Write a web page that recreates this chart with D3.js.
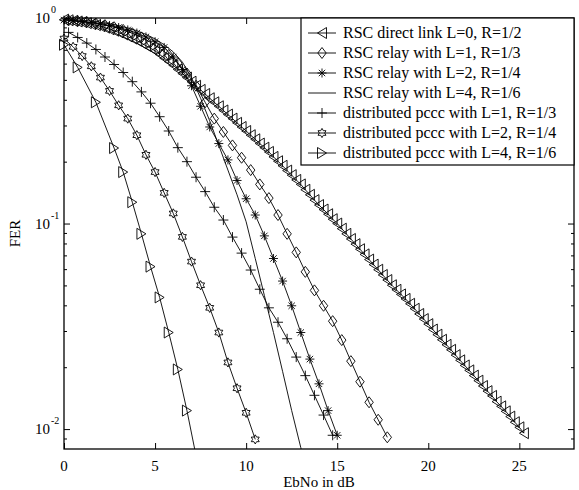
<!DOCTYPE html>
<html>
<head>
<meta charset="utf-8">
<script src="https://cdn.jsdelivr.net/npm/d3@7"></script>
<style>
  body { margin: 0; background: #fff; }
  text { font-family: "Liberation Serif", "Times New Roman", serif; fill: #000; }
</style>
</head>
<body>
<div id="chart"></div>
<script>
// ---------Data----------

// RSC direct link L=0, R=1/2
const ebnoDirect = [0, 0.25, 0.5, 0.75, 1, 1.25, 1.5, 1.75, 2, 2.25, 2.5, 2.75, 3, 3.25, 3.5, 3.75, 4, 4.25, 4.5, 4.75, 5, 5.25, 5.5, 5.75, 6, 6.25, 6.5, 6.75, 7, 7.25, 7.5, 7.75, 8, 8.25, 8.5, 8.75, 9, 9.25, 9.5, 9.75, 10, 10.25, 10.5, 10.75, 11, 11.25, 11.5, 11.75, 12, 12.25, 12.5, 12.75, 13, 13.25, 13.5, 13.75, 14, 14.25, 14.5, 14.75, 15, 15.25, 15.5, 15.75, 16, 16.25, 16.5, 16.75, 17, 17.25, 17.5, 17.75, 18, 18.25, 18.5, 18.75, 19, 19.25, 19.5, 19.75, 20, 20.25, 20.5, 20.75, 21, 21.25, 21.5, 21.75, 22, 22.25, 22.5, 22.75, 23, 23.25, 23.5, 23.75, 24, 24.25, 24.5, 24.75, 25, 25.25];
const ferDirect = [0.982, 0.975, 0.968, 0.962, 0.955, 0.944, 0.933, 0.923, 0.912, 0.897, 0.881, 0.867, 0.851, 0.832, 0.813, 0.794, 0.776, 0.755, 0.733, 0.713, 0.692, 0.665, 0.638, 0.614, 0.589, 0.562, 0.537, 0.513, 0.490, 0.468, 0.447, 0.427, 0.407, 0.389, 0.372, 0.355, 0.339, 0.324, 0.309, 0.295, 0.282, 0.269, 0.257, 0.245, 0.234, 0.223, 0.211, 0.201, 0.191, 0.181, 0.172, 0.163, 0.155, 0.146, 0.138, 0.130, 0.123, 0.117, 0.111, 0.105, 0.100, 0.0944, 0.0891, 0.0841, 0.0794, 0.0750, 0.0708, 0.0668, 0.0631, 0.0596, 0.0562, 0.0531, 0.0501, 0.0476, 0.0452, 0.0430, 0.0407, 0.0385, 0.0363, 0.0343, 0.0324, 0.0305, 0.0288, 0.0272, 0.0257, 0.0243, 0.0229, 0.0216, 0.0204, 0.0193, 0.0182, 0.0172, 0.0162, 0.0153, 0.0145, 0.0136, 0.0129, 0.0122, 0.0115, 0.0108, 0.0102, 0.00955];

// RSC relay with L=1, R=1/3
const ebnoRelay1 = [0.25, 0.75, 1.25, 1.75, 2.25, 2.75, 3.25, 3.75, 4.25, 4.75, 5.25, 5.75, 6.25, 6.75, 7.25, 7.75, 8.25, 8.75, 9.25, 9.75, 10.25, 10.75, 11.25, 11.75, 12.25, 12.75, 13.25, 13.75, 14.25, 14.75, 15.25, 15.75, 16.25, 16.75, 17.25, 17.75];
const ferRelay1 = [0.973, 0.966, 0.955, 0.940, 0.923, 0.902, 0.875, 0.843, 0.805, 0.762, 0.713, 0.661, 0.603, 0.537, 0.468, 0.389, 0.324, 0.279, 0.240, 0.209, 0.182, 0.155, 0.133, 0.110, 0.0891, 0.0724, 0.0582, 0.0473, 0.0398, 0.0335, 0.0271, 0.0214, 0.0170, 0.0135, 0.0111, 0.00912];

// RSC relay with L=2, R=1/4
const ebnoRelay2 = [0, 0.5, 1, 1.5, 2, 2.5, 3, 3.5, 4, 4.5, 5, 5.5, 6, 6.5, 7, 7.5, 8, 8.5, 9, 9.5, 10, 10.5, 11, 11.5, 12, 12.5, 13, 13.5, 14, 14.5, 15];
const ferRelay2 = [0.977, 0.971, 0.962, 0.951, 0.938, 0.920, 0.899, 0.875, 0.845, 0.809, 0.767, 0.719, 0.646, 0.562, 0.468, 0.372, 0.295, 0.245, 0.204, 0.162, 0.132, 0.110, 0.0871, 0.0676, 0.0525, 0.0398, 0.0295, 0.0219, 0.0166, 0.0123, 0.00933];

// RSC relay with L=4, R=1/6
const ebnoRelay4 = [0, 0.5, 1, 1.5, 2, 2.5, 3, 3.5, 4, 4.5, 5, 5.5, 6, 6.5, 7, 7.5, 8, 8.5, 9, 9.5, 10, 10.5, 11, 11.5, 12, 12.5, 13, 13.5];
const ferRelay4 = [0.986, 0.982, 0.975, 0.966, 0.953, 0.938, 0.918, 0.895, 0.867, 0.832, 0.791, 0.741, 0.684, 0.610, 0.513, 0.407, 0.316, 0.240, 0.182, 0.138, 0.102, 0.0676, 0.0447, 0.0295, 0.0191, 0.0123, 0.00813, 0.00525];

// distributed pccc with L=1, R=1/3
const ebnoPccc1 = [0.25, 0.75, 1.25, 1.75, 2.25, 2.75, 3.25, 3.75, 4.25, 4.75, 5.25, 5.75, 6.25, 6.75, 7.25, 7.75, 8.25, 8.75, 9.25, 9.75, 10.25, 10.75, 11.25, 11.75, 12.25, 12.75, 13.25, 13.75, 14.25, 14.75];
const ferPccc1 = [0.851, 0.804, 0.755, 0.703, 0.646, 0.594, 0.543, 0.490, 0.437, 0.385, 0.331, 0.282, 0.234, 0.200, 0.168, 0.143, 0.120, 0.104, 0.0859, 0.0718, 0.0594, 0.0479, 0.0389, 0.0331, 0.0275, 0.0224, 0.0182, 0.0146, 0.0117, 0.00933];

// distributed pccc with L=2, R=1/4
const ebnoPccc2 = [0, 0.5, 1, 1.5, 2, 2.5, 3, 3.5, 4, 4.5, 5, 5.5, 6, 6.5, 7, 7.5, 8, 8.5, 9, 9.5, 10, 10.5];
const ferPccc2 = [0.794, 0.724, 0.653, 0.582, 0.513, 0.442, 0.376, 0.324, 0.269, 0.216, 0.178, 0.141, 0.112, 0.0861, 0.0653, 0.0501, 0.0389, 0.0295, 0.0211, 0.0158, 0.0120, 0.00891];

// distributed pccc with L=4, R=1/6
const ebnoPccc4 = [0, 0.75, 1.75, 2.75, 3.25, 3.75, 4.25, 4.75, 5.25, 5.75, 6.25, 6.75, 7.25];
const ferPccc4 = [0.741, 0.575, 0.389, 0.233, 0.178, 0.127, 0.0891, 0.0617, 0.0437, 0.0295, 0.0195, 0.0123, 0.00741];

const legendLabels = [
  "RSC direct link L=0, R=1/2",
  "RSC relay with L=1, R=1/3",
  "RSC relay with L=2, R=1/4",
  "RSC relay with L=4, R=1/6",
  "distributed pccc with L=1, R=1/3",
  "distributed pccc with L=2, R=1/4",
  "distributed pccc with L=4, R=1/6"
];
const markerTypes = ["triLeft", "diamond", "asterisk", "none", "plus", "hexagram", "triRight"];

const xTicks = [0, 5, 10, 15, 20, 25];
const yMajorTicks = [1, 0.1, 0.01];
const yMajorExp = ["0", "-1", "-2"];
const yMinorTicks = [0.009, 0.02, 0.03, 0.04, 0.05, 0.06, 0.07, 0.08, 0.09, 0.2, 0.3, 0.4, 0.5, 0.6, 0.7, 0.8, 0.9];

const series = [
  [ebnoDirect, ferDirect], [ebnoRelay1, ferRelay1], [ebnoRelay2, ferRelay2], [ebnoRelay4, ferRelay4],
  [ebnoPccc1, ferPccc1], [ebnoPccc2, ferPccc2], [ebnoPccc4, ferPccc4]
].map((s, i) => ({
  name: legendLabels[i],
  marker: markerTypes[i],
  points: s[0].map((x, j) => ({ x: x, y: s[1][j] }))
}));

// ---------Layout----------
const width = 579;
const height = 490;
const plot = { left: 64, right: 574, top: 18, bottom: 449 };

const svg = d3.select("#chart")
  .append("svg")
  .attr("width", width)
  .attr("height", height);

const x = d3.scaleLinear().domain([0, 28]).range([plot.left, plot.right]);
const y = d3.scaleLog().domain([0.008, 1]).range([plot.bottom, plot.top]);

// marker shapes, centred on 0,0
function markerPath(type) {
  switch (type) {
    case "triLeft": return "M4.5,-5.5L-4.5,0L4.5,5.5Z";
    case "triRight": return "M-4.5,-5.5L4.5,0L-4.5,5.5Z";
    case "diamond": return "M0,-5.5L4.2,0L0,5.5L-4.2,0Z";
    case "plus": return "M-5,0H5M0,-5V5";
    case "asterisk": return "M-4.5,0H4.5M0,-4.5V4.5M-3.2,-3.2L3.2,3.2M-3.2,3.2L3.2,-3.2";
    case "hexagram": {
      const R = 4.6, r = R / Math.sqrt(3);
      const pts = d3.range(12).map(k => {
        const a = (-90 + k * 30) * Math.PI / 180;
        const rad = k % 2 === 0 ? R : r;
        return [rad * Math.cos(a), rad * Math.sin(a)];
      });
      return "M" + pts.map(p => p[0].toFixed(2) + "," + p[1].toFixed(2)).join("L") + "Z";
    }
    default: return null;
  }
}

svg.append("clipPath").attr("id", "plotClip")
  .append("rect")
  .attr("x", plot.left).attr("y", plot.top)
  .attr("width", plot.right - plot.left).attr("height", plot.bottom - plot.top);

// ---------Curves----------
const line = d3.line().x(d => x(d.x)).y(d => y(d.y));

const curves = svg.append("g");
series.forEach(s => {
  curves.append("path")
    .attr("clip-path", "url(#plotClip)")
    .attr("d", line(s.points))
    .attr("fill", "none")
    .attr("stroke", "#000")
    .attr("stroke-width", 0.9);

  const shape = markerPath(s.marker);
  if (!shape) return;
  curves.selectAll(null)
    .data(s.points.filter(d => d.y >= 0.008))
    .enter()
    .append("path")
    .attr("transform", d => `translate(${x(d.x)},${y(d.y)})`)
    .attr("d", shape)
    .attr("fill", "none")
    .attr("stroke", "#000")
    .attr("stroke-width", 0.9);
});

// ---------Axes----------
const axes = svg.append("g");

axes.append("g")
  .attr("transform", `translate(0,${plot.bottom})`)
  .call(d3.axisBottom(x).tickValues(xTicks).tickSize(-6).tickFormat(""));
axes.append("g")
  .attr("transform", `translate(0,${plot.top})`)
  .call(d3.axisTop(x).tickValues(xTicks).tickSize(-6).tickFormat(""));
axes.append("g")
  .attr("transform", `translate(${plot.left},0)`)
  .call(d3.axisLeft(y).tickValues(yMajorTicks).tickSize(-6).tickFormat(""));
axes.append("g")
  .attr("transform", `translate(${plot.left},0)`)
  .call(d3.axisLeft(y).tickValues(yMinorTicks).tickSize(-3).tickFormat(""));
axes.append("g")
  .attr("transform", `translate(${plot.right},0)`)
  .call(d3.axisRight(y).tickValues(yMajorTicks).tickSize(-6).tickFormat(""));
axes.append("g")
  .attr("transform", `translate(${plot.right},0)`)
  .call(d3.axisRight(y).tickValues(yMinorTicks).tickSize(-3).tickFormat(""));

axes.selectAll(".domain").remove();
axes.selectAll(".tick line").attr("stroke", "#000").attr("stroke-width", 1);

svg.append("rect")
  .attr("x", plot.left).attr("y", plot.top)
  .attr("width", plot.right - plot.left).attr("height", plot.bottom - plot.top)
  .attr("fill", "none")
  .attr("stroke", "#000")
  .attr("stroke-width", 1.3);

// tick labels
svg.selectAll(".xlab")
  .data(xTicks)
  .enter()
  .append("text")
  .attr("x", d => x(d))
  .attr("y", plot.bottom + 22)
  .attr("text-anchor", "middle")
  .style("font-size", "15px")
  .text(d => d);

yMajorTicks.forEach((v, i) => {
  svg.append("text")
    .attr("x", 50)
    .attr("y", y(v) + 5)
    .attr("text-anchor", "end")
    .style("font-size", "15px")
    .text("10");
  svg.append("text")
    .attr("x", 51)
    .attr("y", y(v) - 5)
    .style("font-size", "10px")
    .text(yMajorExp[i]);
});

// axis titles
svg.append("text")
  .attr("x", (plot.left + plot.right) / 2)
  .attr("y", 487)
  .attr("text-anchor", "middle")
  .style("font-size", "15px")
  .text("EbNo in dB");

svg.append("text")
  .attr("transform", `translate(20,${(plot.top + plot.bottom) / 2}) rotate(-90)`)
  .attr("text-anchor", "middle")
  .style("font-size", "15px")
  .text("FER");

// ---------Legend----------
const legend = { left: 301, top: 18, right: 574, bottom: 165, rowStart: 33, rowStep: 20 };

svg.append("rect")
  .attr("x", legend.left).attr("y", legend.top)
  .attr("width", legend.right - legend.left).attr("height", legend.bottom - legend.top)
  .attr("fill", "#fff")
  .attr("stroke", "#000")
  .attr("stroke-width", 1.2);

series.forEach((s, i) => {
  const cy = legend.rowStart + i * legend.rowStep;
  svg.append("line")
    .attr("x1", 308).attr("x2", 336)
    .attr("y1", cy).attr("y2", cy)
    .attr("stroke", "#000")
    .attr("stroke-width", 0.9);
  const shape = markerPath(s.marker);
  if (shape) {
    svg.append("path")
      .attr("transform", `translate(322,${cy})`)
      .attr("d", shape)
      .attr("fill", "none")
      .attr("stroke", "#000")
      .attr("stroke-width", 0.9);
  }
  svg.append("text")
    .attr("x", 343)
    .attr("y", cy + 5)
    .style("font-size", "16px")
    .text(s.name);
});
</script>
</body>
</html>
